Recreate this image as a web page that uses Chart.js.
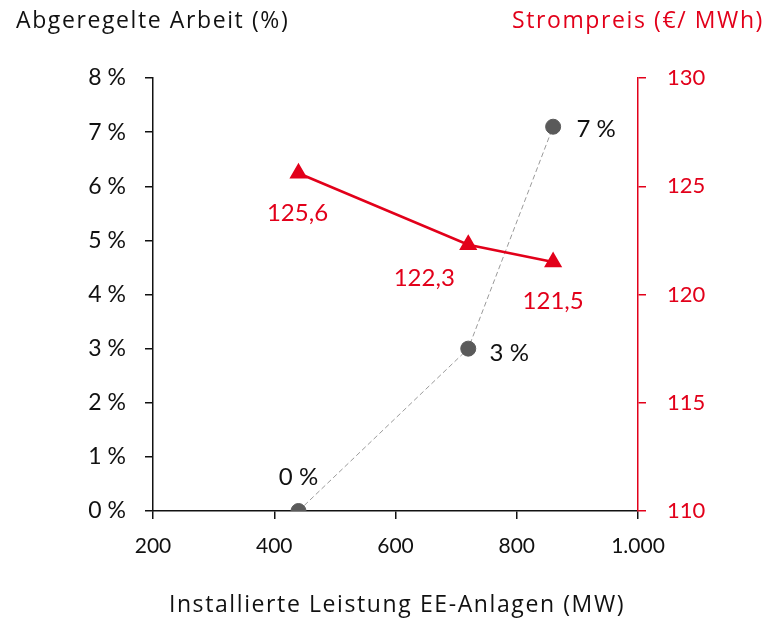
<!DOCTYPE html>
<html>
<head>
<meta charset="utf-8">
<script src="https://cdn.jsdelivr.net/npm/chart.js@4/dist/chart.umd.min.js"></script>
<style>
html,body{margin:0;padding:0;background:#fff;}
#wrap{width:766px;height:622px;position:relative;}
</style>
</head>
<body>
<div id="wrap"><canvas id="c" width="766" height="622"></canvas></div>
<script>
// ---- data ----
const capacityMW = [440, 720, 860];
const curtailedPct = [0, 3, 7.1];
const curtailedLabels = ["0 %", "3 %", "7 %"];
const priceEurMWh = [125.6, 122.3, 121.5];
const priceLabels = ["125,6", "122,3", "121,5"];
const xTickValues = [200, 400, 600, 800, 1000];
const xTickLabels = ["200", "400", "600", "800", "1.000"];
const leftTickLabels = ["0 %", "1 %", "2 %", "3 %", "4 %", "5 %", "6 %", "7 %", "8 %"];
const rightTickLabels = ["110", "115", "120", "125", "130"];
const leftTitle = "Abgeregelte Arbeit (%)";
const rightTitle = "Strompreis (€/ MWh)";
const xTitle = "Installierte Leistung EE-Anlagen (MW)";

const RED = '#E2001A';
const FONT = 'Lato, "Open Sans", sans-serif';
const TFONT = '"Open Sans", Lato, sans-serif';

const labelPlugin = {
  id: 'labels',
  afterDatasetsDraw(chart) {
    const ctx = chart.ctx;
    const offs = [
      [[0,-34],[41,5],[43,3]],
      [[-1,40],[-44,34],[0,39]]
    ];
    const texts = [curtailedLabels, priceLabels];
    const colors = ['#111', RED];
    ctx.save();
    ctx.font = '24px ' + FONT;
    ctx.textAlign = 'center';
    ctx.textBaseline = 'middle';
    [0,1].forEach(di => {
      const meta = chart.getDatasetMeta(di);
      meta.data.forEach((pt, i) => {
        ctx.fillStyle = colors[di];
        ctx.fillText(texts[di][i], pt.x + offs[di][i][0], pt.y + offs[di][i][1]);
      });
    });
    // titles
    ctx.font = '23px ' + TFONT;
    try { ctx.letterSpacing = '1.6px'; } catch (e) {}
    ctx.textAlign = 'left';
    ctx.fillStyle = '#111';
    ctx.fillText(leftTitle, 16, 21);
    ctx.textAlign = 'right';
    ctx.fillStyle = RED;
    ctx.fillText(rightTitle, 764, 21);
    ctx.textAlign = 'center';
    ctx.fillStyle = '#111';
    ctx.fillText(xTitle, 397, 605);
    ctx.restore();
  }
};

new Chart(document.getElementById('c'), {
  type: 'scatter',
  data: {
    datasets: [
      {
        data: capacityMW.map((x, i) => ({x, y: curtailedPct[i]})),
        showLine: true,
        borderColor: '#9a9a9a',
        borderWidth: 1,
        borderDash: [5, 3],
        pointRadius: 7.5,
        pointBackgroundColor: '#5a5a5a',
        pointBorderColor: '#5a5a5a',
        yAxisID: 'y',
        order: 2
      },
      {
        data: capacityMW.map((x, i) => ({x, y: priceEurMWh[i]})),
        showLine: true,
        borderColor: RED,
        borderWidth: 2.5,
        pointStyle: 'triangle',
        pointRadius: 8,
        pointBackgroundColor: RED,
        pointBorderColor: RED,
        yAxisID: 'y1',
        order: 1
      }
    ]
  },
  options: {
    responsive: false,
    animation: false,
    devicePixelRatio: 1,
    layout: { padding: { top: 78, left: 0, right: 0, bottom: 0 } },
    plugins: { legend: { display: false }, tooltip: { enabled: false } },
    scales: {
      x: {
        type: 'linear', min: 200, max: 1000,
        afterBuildTicks: s => { s.ticks = xTickValues.map(v => ({value: v})); },
        afterFit: s => { s.height = 111; },
        ticks: {
          color: '#111', padding: 15,
          font: { size: 21, family: FONT },
          maxRotation: 0,
          callback: v => xTickLabels[xTickValues.indexOf(v)]
        },
        grid: { drawOnChartArea: false, drawTicks: true, tickLength: 8, color: '#111', lineWidth: 1.5 },
        border: { display: true, color: '#111', width: 1.5 }
      },
      y: {
        position: 'left', min: 0, max: 8,
        afterFit: s => { s.width = 153; },
        ticks: {
          stepSize: 1, color: '#111', padding: 19,
          font: { size: 23, family: FONT },
          callback: v => leftTickLabels[v]
        },
        grid: { drawOnChartArea: false, drawTicks: true, tickLength: 8, color: '#111', lineWidth: 1.5 },
        border: { display: true, color: '#111', width: 1.5 }
      },
      y1: {
        position: 'right', min: 110, max: 130,
        afterFit: s => { s.width = 128; },
        ticks: {
          stepSize: 5, color: RED, padding: 21,
          font: { size: 22, family: FONT },
          callback: v => rightTickLabels[(v - 110) / 5]
        },
        grid: { drawOnChartArea: false, drawTicks: true, tickLength: 8, color: RED, lineWidth: 1.5 },
        border: { display: true, color: RED, width: 1.5 }
      }
    }
  },
  plugins: [labelPlugin]
});
</script>
</body>
</html>
